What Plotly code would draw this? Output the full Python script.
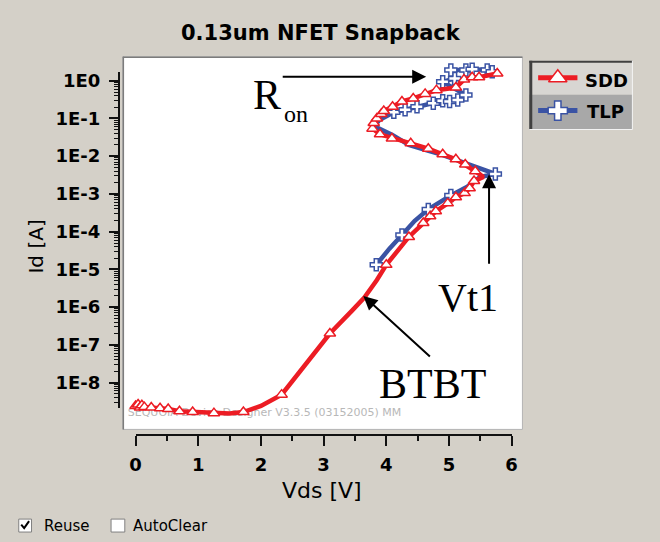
import plotly.graph_objects as go

# ---------------- data ----------------
sdd_v = [0.00, 0.04, 0.07, 0.10, 0.14, 0.25, 0.39, 0.52, 0.70, 0.91, 1.25, 1.50, 1.72, 2.00, 2.33,
         2.70, 3.10, 3.45, 3.65, 3.85, 4.00, 4.36, 4.59, 4.70, 4.79, 4.98, 5.11, 5.25, 5.33, 5.40,
         5.55, 5.42, 5.26, 5.11, 4.90, 4.67, 4.39, 4.09, 3.90, 3.78, 3.80, 3.85, 3.92, 3.96, 4.10,
         4.25, 4.43, 4.62, 4.80, 5.11, 5.24, 5.37, 5.48, 5.77]
sdd_i = [2.40e-9, 2.63e-9, 2.19e-9, 2.51e-9, 2.24e-9, 2.19e-9, 2.09e-9, 2.00e-9, 1.74e-9, 1.66e-9, 1.55e-9, 1.51e-9, 1.66e-9, 2.40e-9, 4.79e-9,
         2.82e-8, 2.00e-7, 7.94e-7, 1.78e-6, 5.25e-6, 1.32e-5, 7.24e-5, 1.70e-4, 2.57e-4, 3.47e-4, 5.62e-4, 8.13e-4, 1.05e-3, 1.41e-3, 2.19e-3,
         2.82e-3, 3.98e-3, 6.03e-3, 8.32e-3, 1.12e-2, 1.58e-2, 2.19e-2, 2.95e-2, 3.80e-2, 5.37e-2, 7.59e-2, 0.100, 0.132, 0.158, 0.204,
         0.282, 0.339, 0.447, 0.562, 0.661, 1.07, 1.23, 1.23, 1.55]
sdd_marked = [1, 1, 1, 1, 1, 1, 1, 1, 1, 1, 1, 0, 1, 0, 1,
              0, 1, 0, 0, 0, 1, 1, 1, 1, 1, 1, 1, 1, 1, 1,
              0, 1, 1, 1, 1, 1, 1, 1, 1, 1, 1, 1, 1, 1, 1,
              1, 1, 1, 1, 1, 1, 1, 1, 1]

tlp_v = [3.84, 4.05, 4.25, 4.45, 4.67, 5.03, 5.30, 5.50, 5.74,
         5.40, 5.14, 4.87, 4.62, 4.36, 4.09, 3.94, 3.81, 3.89, 4.04,
         4.12, 4.30, 4.49, 4.75, 4.90, 5.01, 5.14, 5.27,
         4.90, 5.09, 5.03, 5.27, 5.37, 5.61, 5.69]
tlp_i = [1.32e-5, 3.55e-5, 8.13e-5, 1.91e-4, 3.89e-4, 9.12e-4, 1.58e-3, 2.82e-3, 3.39e-3,
         5.37e-3, 8.13e-3, 1.12e-2, 1.48e-2, 2.00e-2, 3.72e-2, 4.79e-2, 6.17e-2, 9.12e-2, 0.123,
         0.145, 0.170, 0.204, 0.251, 0.295, 0.282, 0.309, 0.417,
         0.933, 1.15, 1.91, 1.91, 2.00, 1.91, 1.74]
tlp_marked = [1, 0, 1, 0, 1, 1, 0, 0, 1,
              0, 0, 0, 0, 0, 0, 0, 0, 0, 0,
              1, 1, 1, 1, 1, 1, 1, 1,
              1, 1, 1, 1, 1, 1, 1]

series_names = ["SDD", "TLP"]
x_tick_vals = [0, 1, 2, 3, 4, 5, 6]
y_tick_vals = [1e0, 1e-1, 1e-2, 1e-3, 1e-4, 1e-5, 1e-6, 1e-7, 1e-8]
y_tick_text = ["1E0", "1E-1", "1E-2", "1E-3", "1E-4", "1E-5", "1E-6", "1E-7", "1E-8"]

# ---------------- geometry helpers ----------------
W, H = 660, 542
XPX0, XPX6 = 132, 515      # pixel columns of V=0 and V=6
YPX0, YPX8 = 79, 382       # pixel rows of 1E0 and 1E-8
BG = "#d4d0c8"
RED = "#ec1c24"
BLUE = "#3a53a4"
FONT = "DejaVu Sans"


def vx(px):
    return (px - XPX0) * 6.0 / (XPX6 - XPX0)


def ly(py):
    return (YPX0 - py) * 8.0 / (YPX8 - YPX0)


def fx(px):
    return px / W


def fy(py):
    return 1 - py / H


def pick(vals, flags):
    return [v for v, f in zip(vals, flags) if f]


fig = go.Figure()

# watermark (under the data)
fig.add_trace(go.Scatter(
    x=[vx(124)], y=[10 ** ly(413)], mode="text",
    text=["SEQUOIA Device Designer V3.3.5 (03152005) MM"], textposition="middle right",
    textfont=dict(family=FONT, size=11, color="#b8b8b8"),
    hoverinfo="skip", showlegend=False, cliponaxis=False))

# data traces
for name, vv, ii, mk, col, sym in [
        ("TLP", tlp_v, tlp_i, tlp_marked, BLUE, "cross"),
        ("SDD", sdd_v, sdd_i, sdd_marked, RED, "triangle-up")]:
    fig.add_trace(go.Scatter(x=vv, y=ii, mode="lines", name=name,
                             line=dict(color=col, width=4.5), showlegend=False))
    fig.add_trace(go.Scatter(x=pick(vv, mk), y=pick(ii, mk), mode="markers", name=name,
                             marker=dict(symbol=sym, size=10, color="white",
                                         line=dict(color=col, width=1.5)),
                             showlegend=False, cliponaxis=False))

# display axes dummy trace
fig.add_trace(go.Scatter(x=[None], y=[None], xaxis="x2", yaxis="y2",
                         showlegend=False, hoverinfo="skip"))

# legend swatches on their own axes (pixel units)
for k, (nm, col, sym) in enumerate([("SDD", RED, "triangle-up"), ("TLP", BLUE, "cross")]):
    yy = 76 + 33 * k
    fig.add_trace(go.Scatter(x=[542, 582], y=[yy, yy], mode="lines", xaxis="x3", yaxis="y3",
                             line=dict(color=col, width=5), showlegend=False, hoverinfo="skip"))
    fig.add_trace(go.Scatter(x=[562], y=[yy], mode="markers", xaxis="x3", yaxis="y3",
                             marker=dict(symbol=sym, size=16, color="white",
                                         line=dict(color=col, width=1.5)),
                             showlegend=False, hoverinfo="skip", cliponaxis=False))

shapes = [
    # plot box
    dict(type="rect", xref="paper", yref="paper", x0=fx(119), x1=fx(526), y0=fy(429), y1=fy(55),
         fillcolor="white", line=dict(color="#b4b4b4", width=1), layer="below"),
    dict(type="line", xref="paper", yref="paper", x0=fx(119), x1=fx(526), y0=fy(55.5), y1=fy(55.5),
         line=dict(color="#7c7c7c", width=1.5), layer="below"),
    dict(type="line", xref="paper", yref="paper", x0=fx(119.5), x1=fx(119.5), y0=fy(429), y1=fy(55),
         line=dict(color="#7c7c7c", width=1.5), layer="below"),
    # legend box
    dict(type="rect", xref="paper", yref="paper", x0=fx(533), x1=fx(638), y0=fy(93), y1=fy(59),
         fillcolor="#d8d6d2", line=dict(width=0), layer="below"),
    dict(type="rect", xref="paper", yref="paper", x0=fx(533), x1=fx(638), y0=fy(128), y1=fy(93),
         fillcolor="#a8a8a8", line=dict(width=0), layer="below"),
    dict(type="line", xref="paper", yref="paper", x0=fx(534.5), x1=fx(534.5), y0=fy(128), y1=fy(59),
         line=dict(color="#404040", width=3), layer="below"),
    dict(type="line", xref="paper", yref="paper", x0=fx(533), x1=fx(638), y0=fy(60), y1=fy(60),
         line=dict(color="#404040", width=2), layer="below"),
    dict(type="line", xref="paper", yref="paper", x0=fx(638), x1=fx(638), y0=fy(128), y1=fy(59),
         line=dict(color="#f4f4f4", width=1), layer="below"),
    dict(type="line", xref="paper", yref="paper", x0=fx(533), x1=fx(638), y0=fy(128), y1=fy(128),
         line=dict(color="#f4f4f4", width=1), layer="below"),
    # checkboxes
    dict(type="rect", xref="paper", yref="paper", x0=fx(13), x1=fx(26), y0=fy(532), y1=fy(519),
         fillcolor="white", line=dict(color="#808080", width=1)),
    dict(type="path", xref="paper", yref="paper",
         path=f"M {fx(15.5)} {fy(524.5)} L {fx(18.5)} {fy(528)} L {fx(23.5)} {fy(521)}",
         line=dict(color="black", width=2)),
    dict(type="rect", xref="paper", yref="paper", x0=fx(107), x1=fx(121), y0=fy(532), y1=fy(519),
         fillcolor="white", line=dict(color="#808080", width=1)),
]

ann = []


def text(t, x, y, size, bold=False, family=FONT, xanchor="center", angle=0, color="black"):
    ann.append(dict(text=t, x=fx(x), y=fy(y), xref="paper", yref="paper", showarrow=False,
                    xanchor=xanchor, yanchor="middle", textangle=angle,
                    font=dict(family=family, size=size, color=color,
                              weight="bold" if bold else "normal")))


def arrow(tip, tail):
    ann.append(dict(text="", x=fx(tip[0]), y=fy(tip[1]), xref="paper", yref="paper",
                    showarrow=True, ax=tail[0] - tip[0], ay=tail[1] - tip[1],
                    arrowhead=2, arrowsize=1.4, arrowwidth=2, arrowcolor="black"))


text("0.13um NFET Snapback", 321, 31, 21, bold=True)
text("Vds [V]", 322, 490, 22)
text("Id [A]", 31, 245, 20, angle=-90)
text(series_names[0], 588, 79, 18, bold=True, xanchor="left")
text(series_names[1], 590, 110, 18, bold=True, xanchor="left")
text("Reuse", 37, 526, 15, xanchor="left")
text("AutoClear", 127, 526, 15, xanchor="left")
SERIF = "Liberation Serif"
text("R", 266, 93, 42, family=SERIF)
text("on", 295, 112, 24, family=SERIF)
text("Vt1", 471, 297, 40, family=SERIF)
text("BTBT", 434, 383, 42, family=SERIF)
arrow((428, 75), (283, 75))
arrow((492, 173), (492, 264))
arrow((364, 295), (432, 357))

axis_font = dict(family=FONT, size=18, color="black", weight="bold")

fig.update_layout(
    width=W, height=H, margin=dict(l=0, r=0, t=0, b=0),
    paper_bgcolor=BG, plot_bgcolor="rgba(0,0,0,0)",
    showlegend=False, shapes=shapes, annotations=ann,
    xaxis=dict(domain=[fx(119), fx(526)], range=[vx(119), vx(526)], visible=False, anchor="y"),
    yaxis=dict(domain=[fy(429), fy(55)], type="log", range=[ly(429), ly(55)], visible=False, anchor="x"),
    xaxis2=dict(domain=[fx(XPX0), fx(XPX6)], range=[0, 6], anchor="free", position=fy(435),
                showline=True, linecolor="#111111", linewidth=2, ticks="outside", ticklen=10,
                tickwidth=1.5, tickcolor="#111111", tickmode="array", tickvals=x_tick_vals,
                tickfont=axis_font, ticklabelstandoff=3, showgrid=False, zeroline=False,
                minor=dict(ticks="outside", ticklen=5, tickwidth=1.5, tickcolor="#111111",
                           dtick=0.5, showgrid=False)),
    yaxis2=dict(domain=[fy(408), fy(70)], type="log", range=[ly(408), ly(70)], anchor="free",
                position=fx(115), side="left", showline=True, linecolor="#111111", linewidth=2,
                ticks="outside", ticklen=9, tickwidth=1.5, tickcolor="#111111",
                tickmode="array", tickvals=y_tick_vals, ticktext=y_tick_text,
                tickfont=axis_font, ticklabelstandoff=5, showgrid=False, zeroline=False,
                minor=dict(ticks="outside", ticklen=4, tickwidth=1, tickcolor="#111111",
                           dtick="D1", showgrid=False)),
    xaxis3=dict(domain=[fx(533), fx(638)], range=[533, 638], visible=False, anchor="y3"),
    yaxis3=dict(domain=[fy(128), fy(59)], range=[128, 59], visible=False, anchor="x3"),
)

fig.write_html("out.html")
